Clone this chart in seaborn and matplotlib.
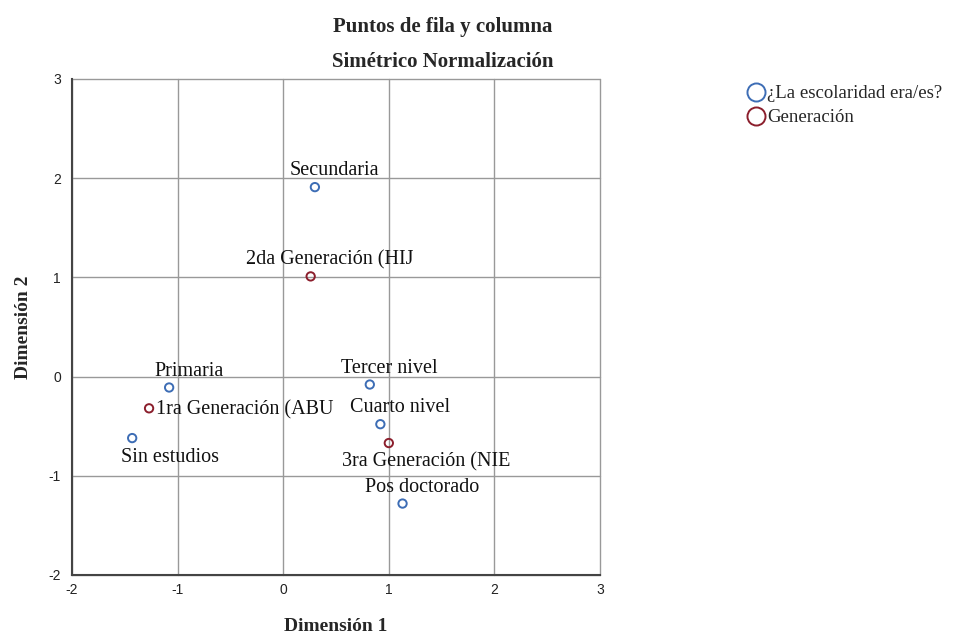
import pandas as pd
import seaborn as sns
import matplotlib.pyplot as plt

# coordenadas (normalización simétrica)
labels = ["Secundaria", "Primaria", "Sin estudios", "Tercer nivel",
          "Cuarto nivel", "Pos doctorado",
          "1ra Generación (ABU", "2da Generación (HIJ", "3ra Generación (NIE"]
dim1 = [0.30, -1.08, -1.43, 0.82, 0.92, 1.13, -1.27, 0.26, 1.00]
dim2 = [1.91, -0.11, -0.62, -0.08, -0.48, -1.28, -0.32, 1.01, -0.67]
groups = ["¿La escolaridad era/es?"] * 6 + ["Generación"] * 3

# donde va cada etiqueta respecto a su punto
label_pos = ["above", "above", "below", "above", "above", "above",
             "right", "above", "below"]

df = pd.DataFrame({"Dimensión 1": dim1, "Dimensión 2": dim2,
                   "grupo": groups, "etiqueta": labels})

sns.set_style("white")
plt.rcParams["font.family"] = ["Liberation Serif", "DejaVu Serif"]
plt.rcParams["axes.unicode_minus"] = False

fig = plt.figure(figsize=(9.7, 6.34), dpi=100)
ax = fig.add_axes([0.0742, 0.0931, 0.6186 - 0.0742, 0.8754 - 0.0931])

palette = {"¿La escolaridad era/es?": "#3d6db5", "Generación": "#8b1e2c"}
sns.scatterplot(data=df, x="Dimensión 1", y="Dimensión 2", hue="grupo",
                palette=palette, ax=ax, s=36, linewidth=1.4,
                legend=False, zorder=3)
for coll in ax.collections:
    coll.set_facecolor("none")
    coll.set_edgecolor([palette[g] for g in df["grupo"]])

offsets = {"above": ((14, 8.5), "center", "baseline"),
           "below": ((27, -17), "center", "baseline"),
           "right": ((5, -4.3), "left", "baseline")}
for i, row in df.iterrows():
    (dx, dy), ha, va = offsets[label_pos[i]]
    ax.annotate(row["etiqueta"], (row["Dimensión 1"], row["Dimensión 2"]),
                xytext=(dx, dy), textcoords="offset points",
                ha=ha, va=va, fontsize=14.5, color="#111111", zorder=4)

ax.set_xlim(-2, 3)
ax.set_ylim(-2, 3)
ax.set_xticks(range(-2, 4))
ax.set_yticks(range(-2, 4))
ax.grid(True, color="#999999", linewidth=1.0)
for gl in ax.get_xgridlines() + ax.get_ygridlines():
    gl.set_clip_on(False)
ax.set_axisbelow(True)
for side in ["top", "right"]:
    ax.spines[side].set_visible(False)
for side in ["left", "bottom"]:
    ax.spines[side].set_color("#444444")
    ax.spines[side].set_linewidth(1.5)
ax.tick_params(length=0)
ax.tick_params(axis="y", pad=8)
ax.tick_params(axis="x", pad=6)
for t in ax.get_xticklabels() + ax.get_yticklabels():
    t.set_family(["Liberation Sans", "DejaVu Sans"])
    t.set_fontsize(10)
    t.set_color("#222222")

ax.set_xlabel("Dimensión 1", fontsize=14, fontweight="bold", labelpad=15)
ax.set_ylabel("Dimensión 2", fontsize=14, fontweight="bold", labelpad=12)

fig.text(443 / 970, 1 - 27 / 634, "Puntos de fila y columna", ha="center",
         va="center", fontsize=15, fontweight="bold")
fig.text(443 / 970, 1 - 62 / 634, "Simétrico Normalización", ha="center",
         va="center", fontsize=15, fontweight="bold")

handles = [plt.Line2D([], [], marker="o", linestyle="none", markersize=13,
                      markerfacecolor="none", markeredgecolor=c,
                      markeredgewidth=1.4) for c in palette.values()]
fig.legend(handles, list(palette.keys()), loc="upper left",
           bbox_to_anchor=(738 / 970, 1 - 76 / 634), frameon=False,
           fontsize=13.5, handlelength=0.9, handletextpad=0.15,
           labelspacing=0.35, borderpad=0)

fig.savefig("out.png", dpi=100)
